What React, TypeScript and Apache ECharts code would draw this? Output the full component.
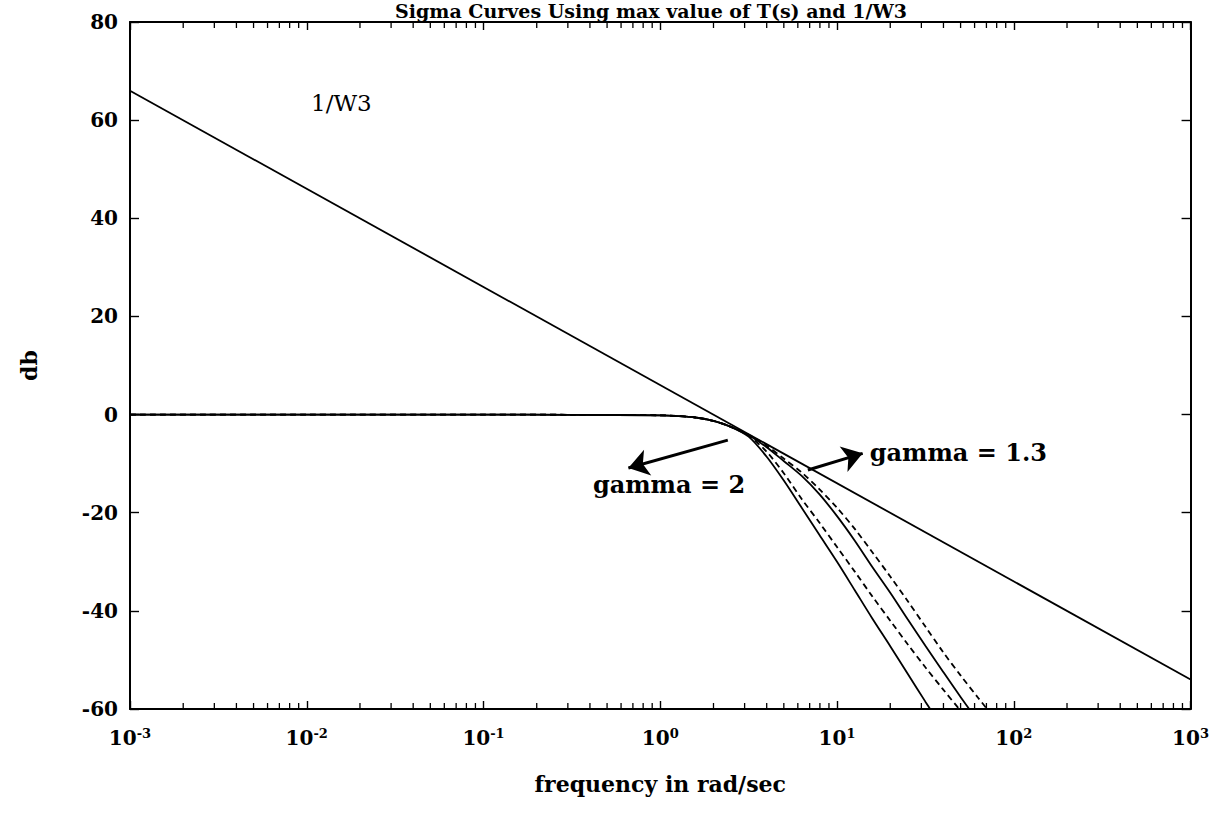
import React, { useEffect, useRef } from "react";
import * as echarts from "echarts";

// ---- data ----
const TITLE = "Sigma Curves Using max value of T(s) and 1/W3";
const FREQ = [0.001, 0.01, 0.1, 0.316, 1, 1.26, 1.58, 2.0, 2.51, 3.16, 3.98, 5.01, 6.31, 7.94, 10, 12.6, 15.8, 20, 25.1, 31.6, 39.8, 50.1, 63.1, 79.4];
const T_SOLID_A = [0, 0, 0, -0.05, -0.15, -0.3, -0.6, -1.3, -2.5, -4.5, -8.5, -13.5, -19, -24.5, -30, -35.8, -41.5, -47.2, -52.8, -58.5, -64, -69.5, -75, -80];
const T_DASH_B = [0, 0, 0, -0.05, -0.15, -0.3, -0.6, -1.3, -2.5, -4.3, -7.5, -12, -17.2, -22, -27, -32, -37, -42, -46.8, -51.5, -56, -60.4, -64.8, -69];
const T_SOLID_C = [0, 0, 0, -0.05, -0.15, -0.3, -0.6, -1.3, -2.5, -4.2, -6.6, -9.5, -12.5, -16.2, -20.7, -25.7, -31, -36.3, -41.7, -47.1, -52.4, -57.6, -62.6, -67.5];
const T_DASH_D = [0, 0, 0, -0.05, -0.15, -0.3, -0.6, -1.3, -2.5, -4.1, -6.3, -9, -11.8, -15.2, -19, -23.3, -28, -33, -38, -43.2, -48.4, -53.2, -57.8, -62.3];
const W3_FREQ = [0.001, 1000];
const W3_DB = [66, -54];
const Y_MIN = -60;
const Y_MAX = 80;
const Y_STEP = 20;
const X_MIN = 0.001;
const X_MAX = 1000;
const MINOR_MULTS = [2, 3, 4, 5, 6, 7, 8, 9];
const DECADES = [0.001, 0.01, 0.1, 1, 10, 100];
const LABEL_W3 = "1/W3";
const LABEL_G2 = "gamma = 2";
const LABEL_G13 = "gamma = 1.3";
const X_NAME = "frequency in rad/sec";
const Y_NAME = "db";

const FONT = "'DejaVu Serif', 'Liberation Serif', serif";

const pairs = (xs: number[], ys: number[]) => xs.map((x, i) => [x, ys[i]]);
const MINOR_TICKS: number[] = [];
DECADES.forEach((d) => MINOR_MULTS.forEach((m) => MINOR_TICKS.push(d * m)));

export default function App() {
  const ref = useRef<HTMLDivElement>(null);
  useEffect(() => {
    if (!ref.current) return;
    const chart = echarts.init(ref.current, null, { renderer: "svg" });
    const axisLine = { show: true, onZero: false, lineStyle: { color: "#000", width: 2 } };
    const lineBase = (name: string, ys: number[], dashed: boolean) => ({
      name,
      type: "line",
      data: pairs(FREQ, ys),
      symbol: "none",
      smooth: 0.3,
      clip: true,
      lineStyle: { color: "#000", width: 1.8, type: dashed ? [6, 4] : "solid" },
      z: 3,
    });
    const option: any = {
      animation: false,
      backgroundColor: "#fff",
      grid: { left: 130, right: 17, top: 22, bottom: 109 },
      xAxis: [
        {
          type: "log",
          logBase: 10,
          min: X_MIN,
          max: X_MAX,
          splitNumber: 6,
          position: "bottom",
          axisLine,
          axisTick: { inside: true, length: 8, lineStyle: { color: "#000", width: 1.4 } },
          splitLine: { show: false },
          minorTick: { show: false },
          axisLabel: {
            margin: 18,
            formatter: (v: number) => `{b|10}{s|${Math.round(Math.log10(v))}}`,
            rich: {
              b: { fontFamily: FONT, fontSize: 20, fontWeight: "bold", color: "#000", lineHeight: 22 },
              s: { fontFamily: FONT, fontSize: 13, fontWeight: "bold", color: "#000", lineHeight: 13, verticalAlign: "top" },
            },
          },
          name: X_NAME,
          nameLocation: "middle",
          nameGap: 64,
          nameTextStyle: { fontFamily: FONT, fontSize: 22, fontWeight: "bold", color: "#000" },
        },
        {
          type: "log",
          logBase: 10,
          min: X_MIN,
          max: X_MAX,
          splitNumber: 6,
          position: "top",
          axisLine,
          axisTick: { inside: true, length: 8, lineStyle: { color: "#000", width: 1.4 } },
          splitLine: { show: false },
          axisLabel: { show: false },
        },
      ],
      yAxis: [
        {
          type: "value",
          min: Y_MIN,
          max: Y_MAX,
          interval: Y_STEP,
          position: "left",
          axisLine,
          axisTick: { inside: true, length: 9, lineStyle: { color: "#000", width: 1.4 } },
          splitLine: { show: false },
          axisLabel: { margin: 12, fontFamily: FONT, fontSize: 20, fontWeight: "bold", color: "#000" },
          name: Y_NAME,
          nameLocation: "middle",
          nameGap: 90,
          nameRotate: 90,
          nameTextStyle: { fontFamily: FONT, fontSize: 22, fontWeight: "bold", color: "#000" },
        },
        {
          type: "value",
          min: Y_MIN,
          max: Y_MAX,
          interval: Y_STEP,
          position: "right",
          axisLine,
          axisTick: { inside: true, length: 9, lineStyle: { color: "#000", width: 1.4 } },
          splitLine: { show: false },
          axisLabel: { show: false },
        },
      ],
      graphic: [
        {
          type: "text",
          x: 651,
          y: 1,
          silent: true,
          style: { text: TITLE, fontFamily: FONT, fontSize: 19, fontWeight: "bold", fill: "#000", align: "center", verticalAlign: "top" },
        },
      ],
      series: [
        {
          name: "1/W3",
          type: "line",
          data: pairs(W3_FREQ, W3_DB),
          symbol: "none",
          lineStyle: { color: "#000", width: 1.8 },
          z: 3,
          markPoint: {
            symbol: "circle",
            symbolSize: 0,
            silent: true,
            itemStyle: { color: "transparent" },
            data: [
              {
                coord: [0.0157, 63.5],
                label: { show: true, position: "inside", formatter: LABEL_W3, fontFamily: FONT, fontSize: 23, color: "#000" },
              },
              {
                coord: [1.12, -14.3],
                label: { show: true, position: "inside", formatter: LABEL_G2, fontFamily: FONT, fontSize: 24, fontWeight: "bold", color: "#000" },
              },
              {
                coord: [15.3, -7.8],
                label: { show: true, position: "right", distance: 0, formatter: LABEL_G13, fontFamily: FONT, fontSize: 24, fontWeight: "bold", color: "#000" },
              },
            ],
          },
        },
        {
          name: "arrows",
          type: "line",
          data: [],
          symbol: "none",
          z: 5,
          markLine: {
            silent: true,
            symbol: ["none", "arrow"],
            symbolSize: 20,
            label: { show: false },
            itemStyle: { color: "#000" },
            lineStyle: { color: "#000", width: 3, type: "solid" },
            data: [
              [{ coord: [2.41, -5.2] }, { coord: [0.66, -10.9] }],
              [{ coord: [6.84, -11.3] }, { coord: [13.97, -7.9] }],
            ],
          },
        },
        lineBase("T_A", T_SOLID_A, false),
        lineBase("T_B", T_DASH_B, true),
        lineBase("T_C", T_SOLID_C, false),
        lineBase("T_D", T_DASH_D, true),
        {
          name: "minorTicks",
          type: "custom",
          silent: true,
          clip: false,
          data: MINOR_TICKS.map((f) => [f, Y_MIN]),
          renderItem: (_params: any, api: any) => {
            const pb = api.coord([api.value(0), Y_MIN]);
            const pt = api.coord([api.value(0), Y_MAX]);
            return {
              type: "group",
              children: [
                { type: "line", shape: { x1: pb[0], y1: pb[1], x2: pb[0], y2: pb[1] - 6 }, style: { stroke: "#000", lineWidth: 1.3 } },
                { type: "line", shape: { x1: pt[0], y1: pt[1], x2: pt[0], y2: pt[1] + 6 }, style: { stroke: "#000", lineWidth: 1.3 } },
              ],
            };
          },
        },
      ],
    };
    chart.setOption(option);
    return () => chart.dispose();
  }, []);
  return (
    <div
      ref={ref}
      style={{ position: "fixed", left: 0, top: 0, width: 1212, height: 818, background: "#fff" }}
    />
  );
}
